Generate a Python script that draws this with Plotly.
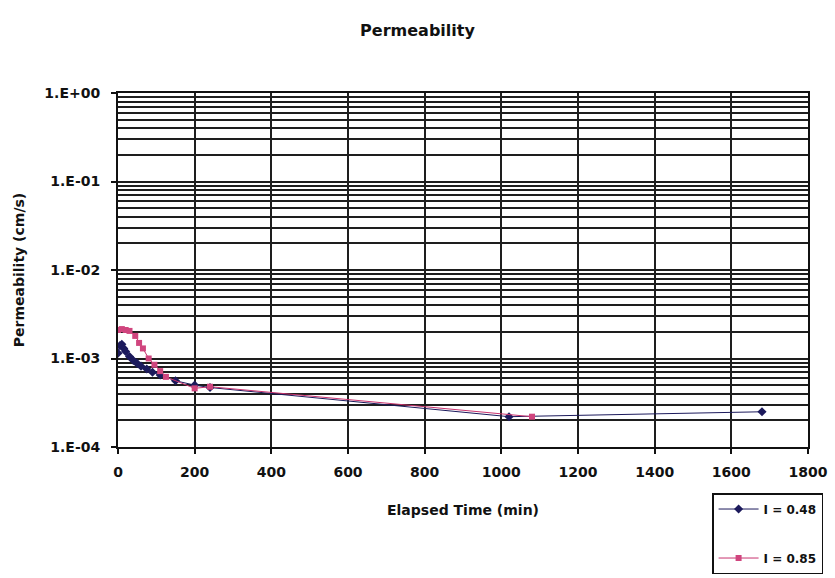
import plotly.graph_objects as go

# Elapsed time (min) and permeability (cm/s) for each hydraulic gradient
time_a = [0, 5, 10, 15, 20, 30, 40, 50, 60, 75, 90, 110, 150, 200, 240, 1020, 1680]
perm_a = [1.15e-3, 1.4e-3, 1.45e-3, 1.3e-3, 1.2e-3, 1.05e-3, 9.5e-4, 8.8e-4,
          8.2e-4, 7.6e-4, 7.0e-4, 6.5e-4, 5.6e-4, 5.0e-4, 4.7e-4, 2.2e-4, 2.5e-4]

time_b = [0, 10, 20, 30, 45, 55, 65, 80, 95, 110, 125, 200, 240, 1080]
perm_b = [2.1e-3, 2.15e-3, 2.1e-3, 2.05e-3, 1.8e-3, 1.5e-3, 1.3e-3, 1.0e-3,
          8.5e-4, 7.2e-4, 6.2e-4, 4.6e-4, 4.8e-4, 2.2e-4]

series_names = ["I = 0.48", "I = 0.85"]

y_tickvals = [1e-4, 1e-3, 1e-2, 1e-1, 1e0]
y_ticktext = ["1.E-04", "1.E-03", "1.E-02", "1.E-01", "1.E+00"]
x_tickvals = [0, 200, 400, 600, 800, 1000, 1200, 1400, 1600, 1800]

FONT = "DejaVu Sans, Liberation Sans, sans-serif"
INK = "#111111"
GRID = "#1e1e1e"

fig = go.Figure()
fig.add_trace(go.Scatter(
    x=time_a, y=perm_a, name=f"<b>{series_names[0]}</b>", mode="lines+markers",
    legendgroup="a",
    line=dict(color="#1c1a5c", width=1),
    marker=dict(symbol="diamond", size=7, color="#1c1a5c"),
))
fig.add_trace(go.Scatter(
    x=time_b, y=perm_b, name=f"<b>{series_names[1]}</b>", mode="lines+markers",
    legendgroup="b",
    line=dict(color="#c8336e", width=1),
    marker=dict(symbol="square", size=6, color="#d0457e"),
))

fig.update_layout(
    width=835, height=578,
    margin=dict(l=118, r=27, t=93, b=131, autoexpand=False),
    paper_bgcolor="white", plot_bgcolor="white",
    font=dict(family=FONT, size=14, color=INK),
    title=dict(text="<b>Permeability</b>", x=0.5, xanchor="center",
               y=1 - 30 / 578, yanchor="middle",
               font=dict(family=FONT, size=16, color=INK)),
    showlegend=True,
    legend=dict(
        x=0.861, y=-0.13, xanchor="left", yanchor="top",
        bgcolor="white", bordercolor=INK, borderwidth=1.5,
        font=dict(family=FONT, size=12, color=INK),
        itemwidth=40, tracegroupgap=30,
    ),
)

fig.update_xaxes(
    range=[0, 1800], tickvals=x_tickvals,
    ticktext=[f"<b>{v}</b>" for v in x_tickvals],
    ticks="outside", ticklen=5, tickwidth=1.5, tickcolor=INK,
    ticklabelstandoff=6, automargin=False,
    showline=True, linecolor=INK, linewidth=2, mirror=True,
    showgrid=True, gridcolor=GRID, gridwidth=2, zeroline=False,
    tickfont=dict(family=FONT, size=14),
    title=dict(text="<b>Elapsed Time (min)</b>", standoff=26,
               font=dict(family=FONT, size=14)),
)

fig.update_yaxes(
    type="log", range=[-4, 0], tickvals=y_tickvals,
    ticktext=[f"<b>{t}</b>" for t in y_ticktext],
    ticks="outside", ticklen=5, tickwidth=1.5, tickcolor=INK,
    ticklabelstandoff=8, automargin=False,
    showline=True, linecolor=INK, linewidth=2, mirror=True,
    showgrid=True, gridcolor=GRID, gridwidth=2, zeroline=False,
    minor=dict(dtick="D1", showgrid=True, gridcolor=GRID, gridwidth=1.5,
               ticks=""),
    tickfont=dict(family=FONT, size=14),
    title=dict(text="<b>Permeability (cm/s)</b>", standoff=16,
               font=dict(family=FONT, size=14)),
)

fig.write_html("out.html")
